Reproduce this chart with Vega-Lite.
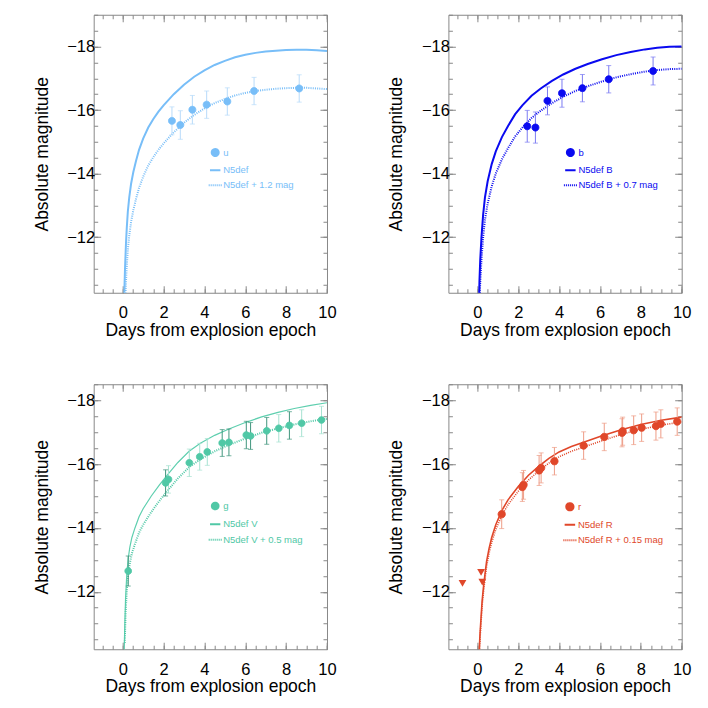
{
"$schema": "https://vega.github.io/schema/vega-lite/v6.json",
"padding": {"left": 31.7, "top": 13.75, "right": 5, "bottom": 5},
"config": {
  "font": "Liberation Sans",
  "view": {"stroke": "#888888", "strokeWidth": 1},
  "axis": {"grid": false, "domain": false, "tickColor": "#888888", "tickWidth": 1, "labelFontSize": 16.5, "labelColor": "#000000", "labelFont": "Liberation Sans", "titleFont": "Liberation Sans", "titleFontSize": 17.5, "titleFontWeight": "normal", "titleColor": "#000000", "labelOverlap": false, "labelFlush": false},
  "legend": {"orient": "none", "labelFontSize": 9.5, "labelFont": "Liberation Sans", "padding": 0, "rowPadding": 3, "labelOffset": 0.5, "symbolStrokeWidth": 2}
},
"datasets": {
  "u_model": [
    {"t":0.07,"mag":-10.0,"series":"N5def"},{"t":0.09,"mag":-10.5,"series":"N5def"},{"t":0.11,"mag":-10.95,"series":"N5def"},{"t":0.13,"mag":-11.3,"series":"N5def"},{"t":0.16,"mag":-11.8,"series":"N5def"},{"t":0.2,"mag":-12.3,"series":"N5def"},{"t":0.25,"mag":-12.8,"series":"N5def"},{"t":0.32,"mag":-13.25,"series":"N5def"},{"t":0.41,"mag":-13.68,"series":"N5def"},{"t":0.52,"mag":-14.05,"series":"N5def"},{"t":0.65,"mag":-14.4,"series":"N5def"},{"t":0.8,"mag":-14.75,"series":"N5def"},{"t":1.0,"mag":-15.1,"series":"N5def"},{"t":1.25,"mag":-15.45,"series":"N5def"},{"t":1.5,"mag":-15.72,"series":"N5def"},{"t":1.75,"mag":-15.95,"series":"N5def"},{"t":2.0,"mag":-16.15,"series":"N5def"},{"t":2.5,"mag":-16.5,"series":"N5def"},{"t":3.0,"mag":-16.8,"series":"N5def"},{"t":3.5,"mag":-17.05,"series":"N5def"},{"t":4.0,"mag":-17.25,"series":"N5def"},{"t":4.5,"mag":-17.42,"series":"N5def"},{"t":5.0,"mag":-17.55,"series":"N5def"},{"t":5.5,"mag":-17.66,"series":"N5def"},{"t":6.0,"mag":-17.74,"series":"N5def"},{"t":6.5,"mag":-17.8,"series":"N5def"},{"t":7.0,"mag":-17.84,"series":"N5def"},{"t":7.5,"mag":-17.87,"series":"N5def"},{"t":8.0,"mag":-17.89,"series":"N5def"},{"t":8.5,"mag":-17.9,"series":"N5def"},{"t":9.0,"mag":-17.9,"series":"N5def"},{"t":9.5,"mag":-17.88,"series":"N5def"},{"t":10.0,"mag":-17.86,"series":"N5def"},
    {"t":0.11,"mag":-9.75,"series":"N5def + 1.2 mag"},{"t":0.13,"mag":-10.1,"series":"N5def + 1.2 mag"},{"t":0.16,"mag":-10.6,"series":"N5def + 1.2 mag"},{"t":0.2,"mag":-11.1,"series":"N5def + 1.2 mag"},{"t":0.25,"mag":-11.6,"series":"N5def + 1.2 mag"},{"t":0.32,"mag":-12.05,"series":"N5def + 1.2 mag"},{"t":0.41,"mag":-12.48,"series":"N5def + 1.2 mag"},{"t":0.52,"mag":-12.85,"series":"N5def + 1.2 mag"},{"t":0.65,"mag":-13.2,"series":"N5def + 1.2 mag"},{"t":0.8,"mag":-13.55,"series":"N5def + 1.2 mag"},{"t":1.0,"mag":-13.9,"series":"N5def + 1.2 mag"},{"t":1.25,"mag":-14.25,"series":"N5def + 1.2 mag"},{"t":1.5,"mag":-14.52,"series":"N5def + 1.2 mag"},{"t":1.75,"mag":-14.75,"series":"N5def + 1.2 mag"},{"t":2.0,"mag":-14.95,"series":"N5def + 1.2 mag"},{"t":2.5,"mag":-15.3,"series":"N5def + 1.2 mag"},{"t":3.0,"mag":-15.6,"series":"N5def + 1.2 mag"},{"t":3.5,"mag":-15.85,"series":"N5def + 1.2 mag"},{"t":4.0,"mag":-16.05,"series":"N5def + 1.2 mag"},{"t":4.5,"mag":-16.22,"series":"N5def + 1.2 mag"},{"t":5.0,"mag":-16.35,"series":"N5def + 1.2 mag"},{"t":5.5,"mag":-16.46,"series":"N5def + 1.2 mag"},{"t":6.0,"mag":-16.54,"series":"N5def + 1.2 mag"},{"t":6.5,"mag":-16.6,"series":"N5def + 1.2 mag"},{"t":7.0,"mag":-16.64,"series":"N5def + 1.2 mag"},{"t":7.5,"mag":-16.67,"series":"N5def + 1.2 mag"},{"t":8.0,"mag":-16.69,"series":"N5def + 1.2 mag"},{"t":8.5,"mag":-16.7,"series":"N5def + 1.2 mag"},{"t":9.0,"mag":-16.7,"series":"N5def + 1.2 mag"},{"t":9.5,"mag":-16.68,"series":"N5def + 1.2 mag"},{"t":10.0,"mag":-16.66,"series":"N5def + 1.2 mag"}
  ],
  "u_obs": [
    {"t":2.41,"mag":-15.66,"err":0.44,"series":"u"},{"t":2.82,"mag":-15.53,"err":0.45,"series":"u"},{"t":3.41,"mag":-16.01,"err":0.45,"series":"u"},{"t":4.11,"mag":-16.17,"err":0.43,"series":"u"},{"t":5.12,"mag":-16.27,"err":0.43,"series":"u"},{"t":6.43,"mag":-16.6,"err":0.43,"series":"u"},{"t":8.64,"mag":-16.68,"err":0.43,"series":"u"}
  ],
  "b_model": [
    {"t":0.08,"mag":-10.0,"series":"N5def B"},{"t":0.1,"mag":-10.6,"series":"N5def B"},{"t":0.14,"mag":-11.3,"series":"N5def B"},{"t":0.2,"mag":-12.0,"series":"N5def B"},{"t":0.28,"mag":-12.7,"series":"N5def B"},{"t":0.37,"mag":-13.25,"series":"N5def B"},{"t":0.5,"mag":-13.75,"series":"N5def B"},{"t":0.7,"mag":-14.3,"series":"N5def B"},{"t":0.9,"mag":-14.7,"series":"N5def B"},{"t":1.2,"mag":-15.15,"series":"N5def B"},{"t":1.5,"mag":-15.5,"series":"N5def B"},{"t":1.85,"mag":-15.87,"series":"N5def B"},{"t":2.2,"mag":-16.15,"series":"N5def B"},{"t":2.65,"mag":-16.45,"series":"N5def B"},{"t":3.1,"mag":-16.68,"series":"N5def B"},{"t":3.65,"mag":-16.92,"series":"N5def B"},{"t":4.2,"mag":-17.12,"series":"N5def B"},{"t":4.8,"mag":-17.3,"series":"N5def B"},{"t":5.4,"mag":-17.45,"series":"N5def B"},{"t":6.1,"mag":-17.6,"series":"N5def B"},{"t":6.8,"mag":-17.73,"series":"N5def B"},{"t":7.5,"mag":-17.83,"series":"N5def B"},{"t":8.2,"mag":-17.91,"series":"N5def B"},{"t":8.8,"mag":-17.96,"series":"N5def B"},{"t":9.4,"mag":-17.99,"series":"N5def B"},{"t":10.0,"mag":-18.0,"series":"N5def B"},
    {"t":0.1,"mag":-9.9,"series":"N5def B + 0.7 mag"},{"t":0.14,"mag":-10.6,"series":"N5def B + 0.7 mag"},{"t":0.2,"mag":-11.3,"series":"N5def B + 0.7 mag"},{"t":0.28,"mag":-12.0,"series":"N5def B + 0.7 mag"},{"t":0.37,"mag":-12.55,"series":"N5def B + 0.7 mag"},{"t":0.5,"mag":-13.05,"series":"N5def B + 0.7 mag"},{"t":0.7,"mag":-13.6,"series":"N5def B + 0.7 mag"},{"t":0.9,"mag":-14.0,"series":"N5def B + 0.7 mag"},{"t":1.2,"mag":-14.45,"series":"N5def B + 0.7 mag"},{"t":1.5,"mag":-14.8,"series":"N5def B + 0.7 mag"},{"t":1.85,"mag":-15.17,"series":"N5def B + 0.7 mag"},{"t":2.2,"mag":-15.45,"series":"N5def B + 0.7 mag"},{"t":2.65,"mag":-15.75,"series":"N5def B + 0.7 mag"},{"t":3.1,"mag":-15.98,"series":"N5def B + 0.7 mag"},{"t":3.65,"mag":-16.22,"series":"N5def B + 0.7 mag"},{"t":4.2,"mag":-16.42,"series":"N5def B + 0.7 mag"},{"t":4.8,"mag":-16.6,"series":"N5def B + 0.7 mag"},{"t":5.4,"mag":-16.75,"series":"N5def B + 0.7 mag"},{"t":6.1,"mag":-16.9,"series":"N5def B + 0.7 mag"},{"t":6.8,"mag":-17.03,"series":"N5def B + 0.7 mag"},{"t":7.5,"mag":-17.13,"series":"N5def B + 0.7 mag"},{"t":8.2,"mag":-17.21,"series":"N5def B + 0.7 mag"},{"t":8.8,"mag":-17.26,"series":"N5def B + 0.7 mag"},{"t":9.4,"mag":-17.29,"series":"N5def B + 0.7 mag"},{"t":10.0,"mag":-17.3,"series":"N5def B + 0.7 mag"}
  ],
  "b_obs": [
    {"t":2.44,"mag":-15.49,"err":0.5,"series":"b"},{"t":2.84,"mag":-15.45,"err":0.49,"series":"b"},{"t":3.43,"mag":-16.29,"err":0.44,"series":"b"},{"t":4.14,"mag":-16.53,"err":0.44,"series":"b"},{"t":5.14,"mag":-16.69,"err":0.43,"series":"b"},{"t":6.43,"mag":-16.97,"err":0.43,"series":"b"},{"t":8.6,"mag":-17.23,"err":0.44,"series":"b"}
  ],
  "g_model": [
    {"t":0.07,"mag":-10.0,"series":"N5def V"},{"t":0.1,"mag":-10.9,"series":"N5def V"},{"t":0.14,"mag":-11.8,"series":"N5def V"},{"t":0.2,"mag":-12.55,"series":"N5def V"},{"t":0.27,"mag":-13.05,"series":"N5def V"},{"t":0.35,"mag":-13.4,"series":"N5def V"},{"t":0.45,"mag":-13.7,"series":"N5def V"},{"t":0.6,"mag":-14.0,"series":"N5def V"},{"t":0.8,"mag":-14.35,"series":"N5def V"},{"t":1.0,"mag":-14.6,"series":"N5def V"},{"t":1.4,"mag":-15.0,"series":"N5def V"},{"t":1.8,"mag":-15.35,"series":"N5def V"},{"t":2.2,"mag":-15.67,"series":"N5def V"},{"t":2.7,"mag":-16.05,"series":"N5def V"},{"t":3.25,"mag":-16.4,"series":"N5def V"},{"t":3.8,"mag":-16.65,"series":"N5def V"},{"t":4.5,"mag":-16.9,"series":"N5def V"},{"t":5.2,"mag":-17.1,"series":"N5def V"},{"t":6.0,"mag":-17.3,"series":"N5def V"},{"t":6.8,"mag":-17.48,"series":"N5def V"},{"t":7.6,"mag":-17.62,"series":"N5def V"},{"t":8.4,"mag":-17.74,"series":"N5def V"},{"t":9.2,"mag":-17.84,"series":"N5def V"},{"t":10.0,"mag":-17.92,"series":"N5def V"},
    {"t":0.1,"mag":-10.4,"series":"N5def V + 0.5 mag"},{"t":0.14,"mag":-11.3,"series":"N5def V + 0.5 mag"},{"t":0.2,"mag":-12.05,"series":"N5def V + 0.5 mag"},{"t":0.27,"mag":-12.55,"series":"N5def V + 0.5 mag"},{"t":0.35,"mag":-12.9,"series":"N5def V + 0.5 mag"},{"t":0.45,"mag":-13.2,"series":"N5def V + 0.5 mag"},{"t":0.6,"mag":-13.5,"series":"N5def V + 0.5 mag"},{"t":0.8,"mag":-13.85,"series":"N5def V + 0.5 mag"},{"t":1.0,"mag":-14.1,"series":"N5def V + 0.5 mag"},{"t":1.4,"mag":-14.5,"series":"N5def V + 0.5 mag"},{"t":1.8,"mag":-14.85,"series":"N5def V + 0.5 mag"},{"t":2.2,"mag":-15.17,"series":"N5def V + 0.5 mag"},{"t":2.7,"mag":-15.55,"series":"N5def V + 0.5 mag"},{"t":3.25,"mag":-15.9,"series":"N5def V + 0.5 mag"},{"t":3.8,"mag":-16.15,"series":"N5def V + 0.5 mag"},{"t":4.5,"mag":-16.4,"series":"N5def V + 0.5 mag"},{"t":5.2,"mag":-16.6,"series":"N5def V + 0.5 mag"},{"t":6.0,"mag":-16.8,"series":"N5def V + 0.5 mag"},{"t":6.8,"mag":-16.98,"series":"N5def V + 0.5 mag"},{"t":7.6,"mag":-17.12,"series":"N5def V + 0.5 mag"},{"t":8.4,"mag":-17.24,"series":"N5def V + 0.5 mag"},{"t":9.2,"mag":-17.34,"series":"N5def V + 0.5 mag"},{"t":10.0,"mag":-17.42,"series":"N5def V + 0.5 mag"}
  ],
  "g_obs": [
    {"t":0.27,"mag":-12.65,"err":0.47,"inst":"dark","series":"g"},{"t":2.1,"mag":-15.41,"err":0.41,"inst":"dark","series":"g"},{"t":2.24,"mag":-15.52,"err":0.43,"inst":"light","series":"g"},{"t":3.26,"mag":-16.04,"err":0.43,"inst":"light","series":"g"},{"t":3.77,"mag":-16.23,"err":0.42,"inst":"light","series":"g"},{"t":4.14,"mag":-16.38,"err":0.42,"inst":"light","series":"g"},{"t":4.87,"mag":-16.66,"err":0.42,"inst":"dark","series":"g"},{"t":5.2,"mag":-16.68,"err":0.42,"inst":"dark","series":"g"},{"t":6.05,"mag":-16.91,"err":0.43,"inst":"dark","series":"g"},{"t":6.26,"mag":-16.88,"err":0.42,"inst":"dark","series":"g"},{"t":7.05,"mag":-17.04,"err":0.42,"inst":"dark","series":"g"},{"t":7.64,"mag":-17.12,"err":0.43,"inst":"light","series":"g"},{"t":8.16,"mag":-17.21,"err":0.43,"inst":"dark","series":"g"},{"t":8.76,"mag":-17.28,"err":0.42,"inst":"light","series":"g"},{"t":9.73,"mag":-17.38,"err":0.43,"inst":"light","series":"g"}
  ],
  "r_model": [
    {"t":0.08,"mag":-10.0,"series":"N5def R"},{"t":0.1,"mag":-10.3,"series":"N5def R"},{"t":0.13,"mag":-10.7,"series":"N5def R"},{"t":0.18,"mag":-11.2,"series":"N5def R"},{"t":0.23,"mag":-11.7,"series":"N5def R"},{"t":0.29,"mag":-12.1,"series":"N5def R"},{"t":0.37,"mag":-12.55,"series":"N5def R"},{"t":0.45,"mag":-12.95,"series":"N5def R"},{"t":0.57,"mag":-13.35,"series":"N5def R"},{"t":0.7,"mag":-13.7,"series":"N5def R"},{"t":0.9,"mag":-14.1,"series":"N5def R"},{"t":1.2,"mag":-14.55,"series":"N5def R"},{"t":1.5,"mag":-14.88,"series":"N5def R"},{"t":2.0,"mag":-15.3,"series":"N5def R"},{"t":2.5,"mag":-15.65,"series":"N5def R"},{"t":3.0,"mag":-15.93,"series":"N5def R"},{"t":3.5,"mag":-16.18,"series":"N5def R"},{"t":4.0,"mag":-16.38,"series":"N5def R"},{"t":4.6,"mag":-16.55,"series":"N5def R"},{"t":5.2,"mag":-16.68,"series":"N5def R"},{"t":6.0,"mag":-16.86,"series":"N5def R"},{"t":7.0,"mag":-17.07,"series":"N5def R"},{"t":8.0,"mag":-17.24,"series":"N5def R"},{"t":9.0,"mag":-17.37,"series":"N5def R"},{"t":10.0,"mag":-17.47,"series":"N5def R"},
    {"t":0.1,"mag":-10.15,"series":"N5def R + 0.15 mag"},{"t":0.13,"mag":-10.55,"series":"N5def R + 0.15 mag"},{"t":0.18,"mag":-11.05,"series":"N5def R + 0.15 mag"},{"t":0.23,"mag":-11.55,"series":"N5def R + 0.15 mag"},{"t":0.29,"mag":-11.95,"series":"N5def R + 0.15 mag"},{"t":0.37,"mag":-12.4,"series":"N5def R + 0.15 mag"},{"t":0.45,"mag":-12.8,"series":"N5def R + 0.15 mag"},{"t":0.57,"mag":-13.2,"series":"N5def R + 0.15 mag"},{"t":0.7,"mag":-13.55,"series":"N5def R + 0.15 mag"},{"t":0.9,"mag":-13.95,"series":"N5def R + 0.15 mag"},{"t":1.2,"mag":-14.4,"series":"N5def R + 0.15 mag"},{"t":1.5,"mag":-14.73,"series":"N5def R + 0.15 mag"},{"t":2.0,"mag":-15.15,"series":"N5def R + 0.15 mag"},{"t":2.5,"mag":-15.5,"series":"N5def R + 0.15 mag"},{"t":3.0,"mag":-15.78,"series":"N5def R + 0.15 mag"},{"t":3.5,"mag":-16.03,"series":"N5def R + 0.15 mag"},{"t":4.0,"mag":-16.23,"series":"N5def R + 0.15 mag"},{"t":4.6,"mag":-16.4,"series":"N5def R + 0.15 mag"},{"t":5.2,"mag":-16.53,"series":"N5def R + 0.15 mag"},{"t":6.0,"mag":-16.71,"series":"N5def R + 0.15 mag"},{"t":7.0,"mag":-16.92,"series":"N5def R + 0.15 mag"},{"t":8.0,"mag":-17.09,"series":"N5def R + 0.15 mag"},{"t":9.0,"mag":-17.22,"series":"N5def R + 0.15 mag"},{"t":10.0,"mag":-17.32,"series":"N5def R + 0.15 mag"}
  ],
  "r_obs": [
    {"t":1.19,"mag":-14.43,"err":0.45,"series":"r"},{"t":2.2,"mag":-15.28,"err":0.45,"series":"r"},{"t":2.26,"mag":-15.35,"err":0.45,"series":"r"},{"t":3.02,"mag":-15.8,"err":0.47,"series":"r"},{"t":3.12,"mag":-15.88,"err":0.47,"series":"r"},{"t":3.77,"mag":-16.09,"err":0.43,"series":"r"},{"t":5.2,"mag":-16.58,"err":0.43,"series":"r"},{"t":6.21,"mag":-16.85,"err":0.43,"series":"r"},{"t":7.08,"mag":-16.98,"err":0.44,"series":"r"},{"t":7.11,"mag":-17.03,"err":0.44,"series":"r"},{"t":7.65,"mag":-17.06,"err":0.45,"series":"r"},{"t":8.04,"mag":-17.14,"err":0.43,"series":"r"},{"t":8.74,"mag":-17.19,"err":0.44,"series":"r"},{"t":8.98,"mag":-17.26,"err":0.44,"series":"r"},{"t":9.78,"mag":-17.33,"err":0.43,"series":"r"}
  ],
  "r_lim": [
    {"t":-0.73,"mag":-12.26},{"t":0.18,"mag":-12.61},{"t":0.24,"mag":-12.3}
  ]
},
"columns": 2,
"spacing": {"row": 91.5, "column": 120.7},
"bounds": "flush",
"resolve": {"scale": {"fill": "independent", "stroke": "independent", "shape": "independent", "size": "independent", "strokeDash": "independent", "x": "independent", "y": "independent"}},
"concat": [
   {
    "width": 233.3, "height": 278,
    "resolve": {"axis": {"x": "independent", "y": "independent"}},
    "layer": [
     {
      "data": {"name": "u_model"},
      "transform": [{"filter": "datum.series === 'N5def'"}],
      "mark": {"type": "line", "clip": true, "strokeWidth": 2, "color": "#78BEF8"},
      "encoding": {
        "x": {"field": "t", "type": "quantitative", "scale": {"domain": [-1.42, 10], "nice": false, "zero": false},
              "axis": {"orient": "bottom", "title": "Days from explosion epoch", "values": [0,2,4,6,8,10], "tickSize": -7, "labelPadding": 19, "titlePadding": 0}},
        "y": {"field": "mag", "type": "quantitative", "scale": {"domain": [-19, -10.25], "nice": false, "zero": false, "reverse": true},
              "axis": {"orient": "left", "title": "Absolute magnitude", "values": [-18,-16,-14,-12], "tickSize": -7, "labelPadding": 6, "titlePadding": 15.6}}
      }
     },
     {
      "data": {"name": "u_model"},
      "transform": [{"filter": "datum.series !== 'N5def'"}],
      "mark": {"type": "line", "clip": true, "strokeWidth": 2, "color": "#78BEF8", "strokeDash": [1, 1.2]},
      "encoding": {
        "x": {"field": "t", "type": "quantitative", "scale": {"domain": [-1.42, 10], "nice": false, "zero": false},
              "axis": {"orient": "bottom", "title": null, "labels": false, "values": [-1,-0.5,0,0.5,1,1.5,2,2.5,3,3.5,4,4.5,5,5.5,6,6.5,7,7.5,8,8.5,9,9.5,10], "tickSize": -4}},
        "y": {"field": "mag", "type": "quantitative", "scale": {"domain": [-19, -10.25], "nice": false, "zero": false, "reverse": true},
              "axis": {"orient": "left", "title": null, "labels": false, "values": [-19,-18.5,-18,-17.5,-17,-16.5,-16,-15.5,-15,-14.5,-14,-13.5,-13,-12.5,-12,-11.5,-11,-10.5], "tickSize": -4}}
      }
     },
     {
      "data": {"name": "u_obs"},
      "mark": {"type": "point", "opacity": 0},
      "encoding": {
        "x": {"field": "t", "type": "quantitative", "scale": {"domain": [-1.42, 10], "nice": false, "zero": false},
              "axis": {"orient": "top", "title": null, "labels": false, "values": [0,2,4,6,8,10], "tickSize": -7}},
        "y": {"field": "mag", "type": "quantitative", "scale": {"domain": [-19, -10.25], "nice": false, "zero": false, "reverse": true},
              "axis": {"orient": "right", "title": null, "labels": false, "values": [-18,-16,-14,-12], "tickSize": -7}}
      }
     },
     {
      "data": {"name": "u_obs"},
      "mark": {"type": "point", "opacity": 0},
      "encoding": {
        "x": {"field": "t", "type": "quantitative", "scale": {"domain": [-1.42, 10], "nice": false, "zero": false},
              "axis": {"orient": "top", "title": null, "labels": false, "values": [-1,-0.5,0,0.5,1,1.5,2,2.5,3,3.5,4,4.5,5,5.5,6,6.5,7,7.5,8,8.5,9,9.5,10], "tickSize": -4}},
        "y": {"field": "mag", "type": "quantitative", "scale": {"domain": [-19, -10.25], "nice": false, "zero": false, "reverse": true},
              "axis": {"orient": "right", "title": null, "labels": false, "values": [-19,-18.5,-18,-17.5,-17,-16.5,-16,-15.5,-15,-14.5,-14,-13.5,-13,-12.5,-12,-11.5,-11,-10.5], "tickSize": -4}}
      }
     },
     {
      "data": {"name": "u_obs"},
      "mark": {"type": "errorbar", "ticks": true, "color": "#B8DBFA"},
      "encoding": {
        "x": {"field": "t", "type": "quantitative", "scale": {"domain": [-1.42, 10], "nice": false, "zero": false}, "axis": null},
        "y": {"field": "mag", "type": "quantitative", "scale": {"domain": [-19, -10.25], "nice": false, "zero": false, "reverse": true}, "axis": null},
        "yError": {"field": "err"}
      }
     },
     {
      "data": {"name": "u_obs"},
      "mark": {"type": "point", "filled": true, "opacity": 1, "strokeWidth": 1},
      "encoding": {
        "x": {"field": "t", "type": "quantitative", "scale": {"domain": [-1.42, 10], "nice": false, "zero": false}, "axis": null},
        "y": {"field": "mag", "type": "quantitative", "scale": {"domain": [-19, -10.25], "nice": false, "zero": false, "reverse": true}, "axis": null},
        "fill": {"field": "series", "type": "nominal", "scale": {"domain": ["u", "N5def", "N5def + 1.2 mag"], "range": ["#78BEF8", "#78BEF8", "#78BEF8"]}, "legend": {"title": null, "legendX": 114, "legendY": 133, "labelColor": "#78BEF8"}},
        "stroke": {"field": "series", "type": "nominal", "scale": {"domain": ["u", "N5def", "N5def + 1.2 mag"], "range": ["#78BEF8", "#78BEF8", "#78BEF8"]}, "legend": {"title": null, "legendX": 114, "legendY": 133, "labelColor": "#78BEF8"}},
        "shape": {"field": "series", "type": "nominal", "scale": {"domain": ["u", "N5def", "N5def + 1.2 mag"], "range": ["circle", "stroke", "stroke"]}, "legend": {"title": null, "legendX": 114, "legendY": 133, "labelColor": "#78BEF8"}},
        "size": {"field": "series", "type": "nominal", "scale": {"domain": ["u", "N5def", "N5def + 1.2 mag"], "range": [48, 169, 169]}, "legend": {"title": null, "legendX": 114, "legendY": 133, "labelColor": "#78BEF8"}},
        "strokeDash": {"field": "series", "type": "nominal", "scale": {"domain": ["u", "N5def", "N5def + 1.2 mag"], "range": [[1, 0], [1, 0], [1, 1]]}, "legend": {"title": null, "legendX": 114, "legendY": 133, "labelColor": "#78BEF8"}}
      }
     }
    ]
   },
   {
    "width": 233.3, "height": 278,
    "resolve": {"axis": {"x": "independent", "y": "independent"}},
    "layer": [
     {
      "data": {"name": "b_model"},
      "transform": [{"filter": "datum.series === 'N5def B'"}],
      "mark": {"type": "line", "clip": true, "strokeWidth": 2, "color": "#0A0AF0"},
      "encoding": {
        "x": {"field": "t", "type": "quantitative", "scale": {"domain": [-1.42, 10], "nice": false, "zero": false},
              "axis": {"orient": "bottom", "title": "Days from explosion epoch", "values": [0,2,4,6,8,10], "tickSize": -7, "labelPadding": 19, "titlePadding": 0}},
        "y": {"field": "mag", "type": "quantitative", "scale": {"domain": [-19, -10.25], "nice": false, "zero": false, "reverse": true},
              "axis": {"orient": "left", "title": "Absolute magnitude", "values": [-18,-16,-14,-12], "tickSize": -7, "labelPadding": 6, "titlePadding": 15.6}}
      }
     },
     {
      "data": {"name": "b_model"},
      "transform": [{"filter": "datum.series !== 'N5def B'"}],
      "mark": {"type": "line", "clip": true, "strokeWidth": 2, "color": "#0A0AF0", "strokeDash": [1, 1.2]},
      "encoding": {
        "x": {"field": "t", "type": "quantitative", "scale": {"domain": [-1.42, 10], "nice": false, "zero": false},
              "axis": {"orient": "bottom", "title": null, "labels": false, "values": [-1,-0.5,0,0.5,1,1.5,2,2.5,3,3.5,4,4.5,5,5.5,6,6.5,7,7.5,8,8.5,9,9.5,10], "tickSize": -4}},
        "y": {"field": "mag", "type": "quantitative", "scale": {"domain": [-19, -10.25], "nice": false, "zero": false, "reverse": true},
              "axis": {"orient": "left", "title": null, "labels": false, "values": [-19,-18.5,-18,-17.5,-17,-16.5,-16,-15.5,-15,-14.5,-14,-13.5,-13,-12.5,-12,-11.5,-11,-10.5], "tickSize": -4}}
      }
     },
     {
      "data": {"name": "b_obs"},
      "mark": {"type": "point", "opacity": 0},
      "encoding": {
        "x": {"field": "t", "type": "quantitative", "scale": {"domain": [-1.42, 10], "nice": false, "zero": false},
              "axis": {"orient": "top", "title": null, "labels": false, "values": [0,2,4,6,8,10], "tickSize": -7}},
        "y": {"field": "mag", "type": "quantitative", "scale": {"domain": [-19, -10.25], "nice": false, "zero": false, "reverse": true},
              "axis": {"orient": "right", "title": null, "labels": false, "values": [-18,-16,-14,-12], "tickSize": -7}}
      }
     },
     {
      "data": {"name": "b_obs"},
      "mark": {"type": "point", "opacity": 0},
      "encoding": {
        "x": {"field": "t", "type": "quantitative", "scale": {"domain": [-1.42, 10], "nice": false, "zero": false},
              "axis": {"orient": "top", "title": null, "labels": false, "values": [-1,-0.5,0,0.5,1,1.5,2,2.5,3,3.5,4,4.5,5,5.5,6,6.5,7,7.5,8,8.5,9,9.5,10], "tickSize": -4}},
        "y": {"field": "mag", "type": "quantitative", "scale": {"domain": [-19, -10.25], "nice": false, "zero": false, "reverse": true},
              "axis": {"orient": "right", "title": null, "labels": false, "values": [-19,-18.5,-18,-17.5,-17,-16.5,-16,-15.5,-15,-14.5,-14,-13.5,-13,-12.5,-12,-11.5,-11,-10.5], "tickSize": -4}}
      }
     },
     {
      "data": {"name": "b_obs"},
      "mark": {"type": "errorbar", "ticks": true, "color": "#7A7AF2"},
      "encoding": {
        "x": {"field": "t", "type": "quantitative", "scale": {"domain": [-1.42, 10], "nice": false, "zero": false}, "axis": null},
        "y": {"field": "mag", "type": "quantitative", "scale": {"domain": [-19, -10.25], "nice": false, "zero": false, "reverse": true}, "axis": null},
        "yError": {"field": "err"}
      }
     },
     {
      "data": {"name": "b_obs"},
      "mark": {"type": "point", "filled": true, "opacity": 1, "strokeWidth": 1},
      "encoding": {
        "x": {"field": "t", "type": "quantitative", "scale": {"domain": [-1.42, 10], "nice": false, "zero": false}, "axis": null},
        "y": {"field": "mag", "type": "quantitative", "scale": {"domain": [-19, -10.25], "nice": false, "zero": false, "reverse": true}, "axis": null},
        "fill": {"field": "series", "type": "nominal", "scale": {"domain": ["b", "N5def B", "N5def B + 0.7 mag"], "range": ["#0A0AF0", "#0A0AF0", "#0A0AF0"]}, "legend": {"title": null, "legendX": 114.5, "legendY": 133, "labelColor": "#0A0AF0"}},
        "stroke": {"field": "series", "type": "nominal", "scale": {"domain": ["b", "N5def B", "N5def B + 0.7 mag"], "range": ["#0A0AF0", "#0A0AF0", "#0A0AF0"]}, "legend": {"title": null, "legendX": 114.5, "legendY": 133, "labelColor": "#0A0AF0"}},
        "shape": {"field": "series", "type": "nominal", "scale": {"domain": ["b", "N5def B", "N5def B + 0.7 mag"], "range": ["circle", "stroke", "stroke"]}, "legend": {"title": null, "legendX": 114.5, "legendY": 133, "labelColor": "#0A0AF0"}},
        "size": {"field": "series", "type": "nominal", "scale": {"domain": ["b", "N5def B", "N5def B + 0.7 mag"], "range": [48, 169, 169]}, "legend": {"title": null, "legendX": 114.5, "legendY": 133, "labelColor": "#0A0AF0"}},
        "strokeDash": {"field": "series", "type": "nominal", "scale": {"domain": ["b", "N5def B", "N5def B + 0.7 mag"], "range": [[1, 0], [1, 0], [1, 1]]}, "legend": {"title": null, "legendX": 114.5, "legendY": 133, "labelColor": "#0A0AF0"}}
      }
     }
    ]
   },
   {
    "width": 233.3, "height": 265,
    "resolve": {"axis": {"x": "independent", "y": "independent"}},
    "layer": [
     {
      "data": {"name": "g_model"},
      "transform": [{"filter": "datum.series === 'N5def V'"}],
      "mark": {"type": "line", "clip": true, "strokeWidth": 1.2, "color": "#5FCFAF"},
      "encoding": {
        "x": {"field": "t", "type": "quantitative", "scale": {"domain": [-1.42, 10], "nice": false, "zero": false},
              "axis": {"orient": "bottom", "title": "Days from explosion epoch", "values": [0,2,4,6,8,10], "tickSize": -7, "labelPadding": 19, "titlePadding": 0}},
        "y": {"field": "mag", "type": "quantitative", "scale": {"domain": [-18.5, -10.2], "nice": false, "zero": false, "reverse": true},
              "axis": {"orient": "left", "title": "Absolute magnitude", "values": [-18,-16,-14,-12], "tickSize": -7, "labelPadding": 6, "titlePadding": 15.6}}
      }
     },
     {
      "data": {"name": "g_model"},
      "transform": [{"filter": "datum.series !== 'N5def V'"}],
      "mark": {"type": "line", "clip": true, "strokeWidth": 2, "color": "#50C8A6", "strokeDash": [1, 1.2]},
      "encoding": {
        "x": {"field": "t", "type": "quantitative", "scale": {"domain": [-1.42, 10], "nice": false, "zero": false},
              "axis": {"orient": "bottom", "title": null, "labels": false, "values": [-1,-0.5,0,0.5,1,1.5,2,2.5,3,3.5,4,4.5,5,5.5,6,6.5,7,7.5,8,8.5,9,9.5,10], "tickSize": -4}},
        "y": {"field": "mag", "type": "quantitative", "scale": {"domain": [-18.5, -10.2], "nice": false, "zero": false, "reverse": true},
              "axis": {"orient": "left", "title": null, "labels": false, "values": [-18.5,-18,-17.5,-17,-16.5,-16,-15.5,-15,-14.5,-14,-13.5,-13,-12.5,-12,-11.5,-11,-10.5], "tickSize": -4}}
      }
     },
     {
      "data": {"name": "g_obs"},
      "mark": {"type": "point", "opacity": 0},
      "encoding": {
        "x": {"field": "t", "type": "quantitative", "scale": {"domain": [-1.42, 10], "nice": false, "zero": false},
              "axis": {"orient": "top", "title": null, "labels": false, "values": [0,2,4,6,8,10], "tickSize": -7}},
        "y": {"field": "mag", "type": "quantitative", "scale": {"domain": [-18.5, -10.2], "nice": false, "zero": false, "reverse": true},
              "axis": {"orient": "right", "title": null, "labels": false, "values": [-18,-16,-14,-12], "tickSize": -7}}
      }
     },
     {
      "data": {"name": "g_obs"},
      "mark": {"type": "point", "opacity": 0},
      "encoding": {
        "x": {"field": "t", "type": "quantitative", "scale": {"domain": [-1.42, 10], "nice": false, "zero": false},
              "axis": {"orient": "top", "title": null, "labels": false, "values": [-1,-0.5,0,0.5,1,1.5,2,2.5,3,3.5,4,4.5,5,5.5,6,6.5,7,7.5,8,8.5,9,9.5,10], "tickSize": -4}},
        "y": {"field": "mag", "type": "quantitative", "scale": {"domain": [-18.5, -10.2], "nice": false, "zero": false, "reverse": true},
              "axis": {"orient": "right", "title": null, "labels": false, "values": [-18.5,-18,-17.5,-17,-16.5,-16,-15.5,-15,-14.5,-14,-13.5,-13,-12.5,-12,-11.5,-11,-10.5], "tickSize": -4}}
      }
     },
     {
      "data": {"name": "g_obs"},
      "transform": [{"filter": "datum.inst === 'light'"}],
      "mark": {"type": "errorbar", "ticks": true, "color": "#A6E2D1"},
      "encoding": {
        "x": {"field": "t", "type": "quantitative", "scale": {"domain": [-1.42, 10], "nice": false, "zero": false}, "axis": null},
        "y": {"field": "mag", "type": "quantitative", "scale": {"domain": [-18.5, -10.2], "nice": false, "zero": false, "reverse": true}, "axis": null},
        "yError": {"field": "err"}
      }
     },
     {
      "data": {"name": "g_obs"},
      "transform": [{"filter": "datum.inst === 'dark'"}],
      "mark": {"type": "errorbar", "ticks": true, "color": "#3F957C"},
      "encoding": {
        "x": {"field": "t", "type": "quantitative", "scale": {"domain": [-1.42, 10], "nice": false, "zero": false}, "axis": null},
        "y": {"field": "mag", "type": "quantitative", "scale": {"domain": [-18.5, -10.2], "nice": false, "zero": false, "reverse": true}, "axis": null},
        "yError": {"field": "err"}
      }
     },
     {
      "data": {"name": "g_obs"},
      "mark": {"type": "point", "filled": true, "opacity": 1, "strokeWidth": 1},
      "encoding": {
        "x": {"field": "t", "type": "quantitative", "scale": {"domain": [-1.42, 10], "nice": false, "zero": false}, "axis": null},
        "y": {"field": "mag", "type": "quantitative", "scale": {"domain": [-18.5, -10.2], "nice": false, "zero": false, "reverse": true}, "axis": null},
        "fill": {"field": "series", "type": "nominal", "scale": {"domain": ["g", "N5def V", "N5def V + 0.5 mag"], "range": ["#50C8A6", "#50C8A6", "#50C8A6"]}, "legend": {"title": null, "legendX": 114, "legendY": 117, "rowPadding": 3.5, "labelColor": "#50C8A6"}},
        "stroke": {"field": "series", "type": "nominal", "scale": {"domain": ["g", "N5def V", "N5def V + 0.5 mag"], "range": ["#50C8A6", "#50C8A6", "#50C8A6"]}, "legend": {"title": null, "legendX": 114, "legendY": 117, "rowPadding": 3.5, "labelColor": "#50C8A6"}},
        "shape": {"field": "series", "type": "nominal", "scale": {"domain": ["g", "N5def V", "N5def V + 0.5 mag"], "range": ["circle", "stroke", "stroke"]}, "legend": {"title": null, "legendX": 114, "legendY": 117, "rowPadding": 3.5, "labelColor": "#50C8A6"}},
        "size": {"field": "series", "type": "nominal", "scale": {"domain": ["g", "N5def V", "N5def V + 0.5 mag"], "range": [44, 169, 169]}, "legend": {"title": null, "legendX": 114, "legendY": 117, "rowPadding": 3.5, "labelColor": "#50C8A6"}},
        "strokeDash": {"field": "series", "type": "nominal", "scale": {"domain": ["g", "N5def V", "N5def V + 0.5 mag"], "range": [[1, 0], [1, 0], [1, 1]]}, "legend": {"title": null, "legendX": 114, "legendY": 117, "rowPadding": 3.5, "labelColor": "#50C8A6"}}
      }
     }
    ]
   },
   {
    "width": 233.3, "height": 265,
    "resolve": {"axis": {"x": "independent", "y": "independent"}},
    "layer": [
     {
      "data": {"name": "r_model"},
      "transform": [{"filter": "datum.series === 'N5def R'"}],
      "mark": {"type": "line", "clip": true, "strokeWidth": 1.6, "color": "#E0472A"},
      "encoding": {
        "x": {"field": "t", "type": "quantitative", "scale": {"domain": [-1.42, 10], "nice": false, "zero": false},
              "axis": {"orient": "bottom", "title": "Days from explosion epoch", "values": [0,2,4,6,8,10], "tickSize": -7, "labelPadding": 19, "titlePadding": 0}},
        "y": {"field": "mag", "type": "quantitative", "scale": {"domain": [-18.5, -10.2], "nice": false, "zero": false, "reverse": true},
              "axis": {"orient": "left", "title": "Absolute magnitude", "values": [-18,-16,-14,-12], "tickSize": -7, "labelPadding": 6, "titlePadding": 15.6}}
      }
     },
     {
      "data": {"name": "r_model"},
      "transform": [{"filter": "datum.series !== 'N5def R'"}],
      "mark": {"type": "line", "clip": true, "strokeWidth": 1.6, "color": "#E0472A", "strokeDash": [1, 1.2]},
      "encoding": {
        "x": {"field": "t", "type": "quantitative", "scale": {"domain": [-1.42, 10], "nice": false, "zero": false},
              "axis": {"orient": "bottom", "title": null, "labels": false, "values": [-1,-0.5,0,0.5,1,1.5,2,2.5,3,3.5,4,4.5,5,5.5,6,6.5,7,7.5,8,8.5,9,9.5,10], "tickSize": -4}},
        "y": {"field": "mag", "type": "quantitative", "scale": {"domain": [-18.5, -10.2], "nice": false, "zero": false, "reverse": true},
              "axis": {"orient": "left", "title": null, "labels": false, "values": [-18.5,-18,-17.5,-17,-16.5,-16,-15.5,-15,-14.5,-14,-13.5,-13,-12.5,-12,-11.5,-11,-10.5], "tickSize": -4}}
      }
     },
     {
      "data": {"name": "r_obs"},
      "mark": {"type": "point", "opacity": 0},
      "encoding": {
        "x": {"field": "t", "type": "quantitative", "scale": {"domain": [-1.42, 10], "nice": false, "zero": false},
              "axis": {"orient": "top", "title": null, "labels": false, "values": [0,2,4,6,8,10], "tickSize": -7}},
        "y": {"field": "mag", "type": "quantitative", "scale": {"domain": [-18.5, -10.2], "nice": false, "zero": false, "reverse": true},
              "axis": {"orient": "right", "title": null, "labels": false, "values": [-18,-16,-14,-12], "tickSize": -7}}
      }
     },
     {
      "data": {"name": "r_obs"},
      "mark": {"type": "point", "opacity": 0},
      "encoding": {
        "x": {"field": "t", "type": "quantitative", "scale": {"domain": [-1.42, 10], "nice": false, "zero": false},
              "axis": {"orient": "top", "title": null, "labels": false, "values": [-1,-0.5,0,0.5,1,1.5,2,2.5,3,3.5,4,4.5,5,5.5,6,6.5,7,7.5,8,8.5,9,9.5,10], "tickSize": -4}},
        "y": {"field": "mag", "type": "quantitative", "scale": {"domain": [-18.5, -10.2], "nice": false, "zero": false, "reverse": true},
              "axis": {"orient": "right", "title": null, "labels": false, "values": [-18.5,-18,-17.5,-17,-16.5,-16,-15.5,-15,-14.5,-14,-13.5,-13,-12.5,-12,-11.5,-11,-10.5], "tickSize": -4}}
      }
     },
     {
      "data": {"name": "r_obs"},
      "mark": {"type": "errorbar", "ticks": true, "color": "#EE9C86"},
      "encoding": {
        "x": {"field": "t", "type": "quantitative", "scale": {"domain": [-1.42, 10], "nice": false, "zero": false}, "axis": null},
        "y": {"field": "mag", "type": "quantitative", "scale": {"domain": [-18.5, -10.2], "nice": false, "zero": false, "reverse": true}, "axis": null},
        "yError": {"field": "err"}
      }
     },
     {
      "data": {"name": "r_lim"},
      "mark": {"type": "point", "shape": "triangle-down", "filled": true, "size": 60, "opacity": 1, "color": "#E0472A"},
      "encoding": {
        "x": {"field": "t", "type": "quantitative", "scale": {"domain": [-1.42, 10], "nice": false, "zero": false}, "axis": null},
        "y": {"field": "mag", "type": "quantitative", "scale": {"domain": [-18.5, -10.2], "nice": false, "zero": false, "reverse": true}, "axis": null}
      }
     },
     {
      "data": {"name": "r_obs"},
      "mark": {"type": "point", "filled": true, "opacity": 1, "strokeWidth": 1},
      "encoding": {
        "x": {"field": "t", "type": "quantitative", "scale": {"domain": [-1.42, 10], "nice": false, "zero": false}, "axis": null},
        "y": {"field": "mag", "type": "quantitative", "scale": {"domain": [-18.5, -10.2], "nice": false, "zero": false, "reverse": true}, "axis": null},
        "fill": {"field": "series", "type": "nominal", "scale": {"domain": ["r", "N5def R", "N5def R + 0.15 mag"], "range": ["#E0472A", "#E0472A", "#E0472A"]}, "legend": {"title": null, "legendX": 114, "legendY": 117.5, "rowPadding": 3.5, "labelColor": "#E0472A"}},
        "stroke": {"field": "series", "type": "nominal", "scale": {"domain": ["r", "N5def R", "N5def R + 0.15 mag"], "range": ["#E0472A", "#E0472A", "#E0472A"]}, "legend": {"title": null, "legendX": 114, "legendY": 117.5, "rowPadding": 3.5, "labelColor": "#E0472A"}},
        "shape": {"field": "series", "type": "nominal", "scale": {"domain": ["r", "N5def R", "N5def R + 0.15 mag"], "range": ["circle", "stroke", "stroke"]}, "legend": {"title": null, "legendX": 114, "legendY": 117.5, "rowPadding": 3.5, "labelColor": "#E0472A"}},
        "size": {"field": "series", "type": "nominal", "scale": {"domain": ["r", "N5def R", "N5def R + 0.15 mag"], "range": [52, 169, 169]}, "legend": {"title": null, "legendX": 114, "legendY": 117.5, "rowPadding": 3.5, "labelColor": "#E0472A"}},
        "strokeDash": {"field": "series", "type": "nominal", "scale": {"domain": ["r", "N5def R", "N5def R + 0.15 mag"], "range": [[1, 0], [1, 0], [1, 1]]}, "legend": {"title": null, "legendX": 114, "legendY": 117.5, "rowPadding": 3.5, "labelColor": "#E0472A"}}
      }
     }
    ]
   }
]
}
